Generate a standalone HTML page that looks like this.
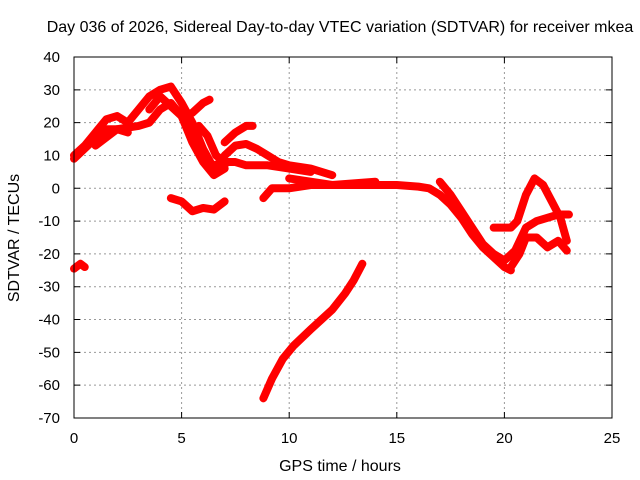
<!DOCTYPE html>
<html><head><meta charset="utf-8"><style>
body{margin:0;background:#fff}
svg{display:block;font-family:"Liberation Sans",sans-serif}
</style></head><body>
<svg id="c" width="640" height="480">
<text x="340" y="32" font-size="16" text-anchor="middle">Day 036 of 2026, Sidereal Day-to-day VTEC variation (SDTVAR) for receiver mkea</text>
<text x="340" y="471" font-size="16" text-anchor="middle">GPS time / hours</text>
<text transform="translate(19,238) rotate(-90)" font-size="16" text-anchor="middle">SDTVAR / TECUs</text>
<g id="grid"></g><g id="series"></g>
<rect x="74" y="57" width="538" height="361" fill="none" stroke="#000" stroke-width="1"/>
</svg>
<script>
const xTicks=[0,5,10,15,20,25];
const yTicks=[40,30,20,10,0,-10,-20,-30,-40,-50,-60,-70];
const sA=[[0,10],[0.5,13],[1,17],[1.5,21],[2,22],[2.5,20],[3,24],[3.5,28],[4,30],[4.5,31],[5,26],[5.5,20],[6,12],[6.5,6],[7,7]];
const sB=[[0,9],[0.8,14],[1.5,18],[2,18],[2.5,17]];
const sC=[[1,13],[2,18],[3,19],[3.5,20],[4,24],[4.5,26],[5,22],[5.5,14],[6,8],[6.5,4],[7,6]];
const sD=[[3.5,24],[4,28],[4.5,25],[5,22],[5.5,23],[6,26],[6.3,27]];
const sE=[[5.8,19],[6.2,16],[6.6,10],[7,8]];
const sF=[[7,14],[7.5,17],[8,19],[8.3,19]];
const sG=[[7,10],[7.5,13],[8,13.5],[8.5,12],[9,10],[9.5,8],[10,7],[11,6],[12,4]];
const sH=[[6.5,7],[7,8],[7.5,8],[8,7],[9,7],[10,6],[11,5]];
const sI=[[8.8,-3],[9.2,0],[10,0],[11,1],[12,1],[13,1.5],[14,2]];
const sJ=[[4.5,-3],[5,-4],[5.5,-7],[6,-6],[6.5,-6.5],[7,-4]];
const sK=[[10,3],[11,2],[12,1],[13,1],[14,1],[15,1],[16,0.5],[16.5,0],[17,-2],[17.5,-5],[18,-9],[18.5,-14],[19,-18],[19.5,-21],[20,-24],[20.3,-25]];
const sL=[[17,2],[17.5,-2],[18,-7],[18.5,-12],[19,-17],[19.5,-20],[20,-22],[20.5,-19],[21,-12],[21.5,-10],[22,-9],[22.5,-8],[23,-8]];
const sM=[[19.5,-12],[20.3,-12],[20.6,-10],[21,-2],[21.4,3],[21.8,1],[22.2,-4],[22.6,-9],[22.9,-16]];
const sN=[[20.3,-24],[20.7,-20],[21,-15],[21.5,-15],[22,-18],[22.5,-16],[22.9,-19]];
const sO=[[8.8,-64],[9.2,-58],[9.7,-52],[10.2,-48],[11,-43],[12,-37],[12.6,-32],[13,-28],[13.4,-23]];
const sP=[[0,-24.5],[0.3,-23],[0.5,-24]];
const allSeries=[sA,sB,sC,sD,sE,sF,sG,sH,sI,sJ,sK,sL,sM,sN,sO,sP];
const X=h=>74+h*538/25, Y=v=>57+(40-v)*361/110;
const NS='http://www.w3.org/2000/svg';
const grid=document.getElementById('grid'), ser=document.getElementById('series');
function mk(tag,attrs,parent){const e=document.createElementNS(NS,tag);for(const k in attrs)e.setAttribute(k,attrs[k]);parent.appendChild(e);return e;}
xTicks.forEach(t=>{
  if(t>0&&t<25){const g=mk('line',{x1:X(t),x2:X(t),y1:57,y2:418,stroke:'#999','stroke-dasharray':'2,3'},grid);
  
  }
  const tk=mk('path',{d:`M${X(t)},418v-6M${X(t)},57v6`,stroke:'#000'},grid);
  
  
  const l=mk('text',{x:X(t),y:443,'font-size':15,'text-anchor':'middle'},grid);l.textContent=t;
  
  
});
yTicks.forEach(t=>{
  if(t<40&&t>-70){const g=mk('line',{x1:74,x2:612,y1:Y(t),y2:Y(t),stroke:'#999','stroke-dasharray':'2,3'},grid);
  
  }
  const tk=mk('path',{d:`M74,${Y(t)}h6M612,${Y(t)}h-6`,stroke:'#000'},grid);
  
  
  const l=mk('text',{x:60,y:Y(t)+5,'font-size':15,'text-anchor':'end'},grid);l.textContent=t;
  
  
});
allSeries.forEach((s,i)=>{
  const p=mk('polyline',{points:s.map(d=>X(d[0])+','+Y(d[1])).join(' '),fill:'none',stroke:'#f00','stroke-width':8,'stroke-linejoin':'round','stroke-linecap':'round'},ser);
  
  
});
</script>
</body></html>
